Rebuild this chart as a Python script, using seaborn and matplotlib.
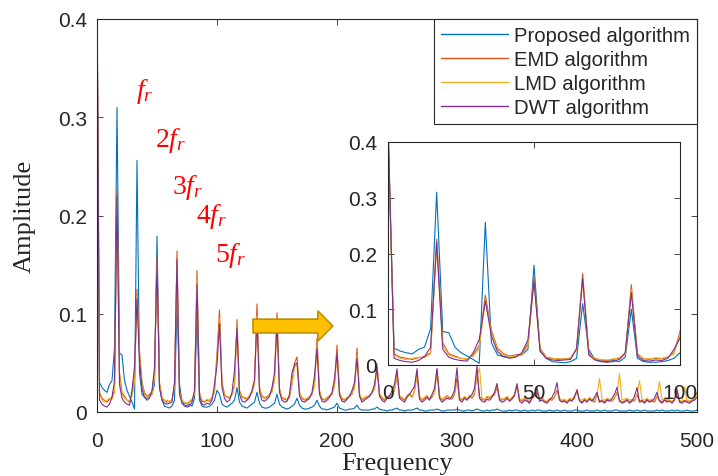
import numpy as np
import pandas as pd
import matplotlib
matplotlib.use("Agg")
import matplotlib.pyplot as plt
from matplotlib.patches import FancyArrow
import seaborn as sns

# frequency grid of the spectrum (0..500 Hz, 241 bins)
freq = np.linspace(0, 500, 241)

# amplitudes, in thousandths (one row = 50 Hz)
proposed_amp = [
    420, 30, 25, 22, 20, 28, 32, 65, 310, 60, 58, 32, 22, 16, 10, 3, 256, 40, 18, 15, 14, 16, 18, 28,
    179, 25, 12, 6, 5, 4, 6, 12, 110, 28, 10, 7, 6, 8, 6, 14, 100, 12, 6, 5, 5, 6, 8, 12,
    22, 18, 8, 6, 5, 7, 9, 12, 25, 10, 6, 5, 4, 6, 8, 10, 20, 9, 5, 4, 4, 5, 7, 9,
    18, 8, 5, 4, 3, 4, 6, 8, 14, 7, 4, 3, 3, 4, 5, 7, 12, 6, 3, 3, 2, 3, 4, 5,
    9, 4, 3, 2, 2, 3, 3, 4, 7, 3, 2, 2, 2, 2, 3, 3, 5, 3, 2, 2, 1, 2, 2, 3,
    4, 2, 2, 1, 2, 2, 2, 3, 4, 2, 2, 1, 1, 2, 2, 2, 3, 2, 1, 1, 2, 2, 2, 2,
    3, 2, 1, 1, 2, 2, 1, 2, 3, 2, 1, 1, 2, 1, 2, 2, 3, 2, 1, 1, 1, 2, 1, 2,
    2, 1, 1, 2, 1, 1, 2, 1, 2, 2, 1, 1, 1, 2, 1, 1, 2, 1, 1, 2, 1, 1, 1, 2,
    2, 1, 1, 1, 2, 1, 1, 1, 2, 1, 1, 2, 1, 1, 1, 2, 2, 1, 1, 1, 1, 2, 1, 1,
    2, 1, 1, 2, 1, 1, 1, 1, 2, 1, 2, 1, 1, 1, 2, 1, 2, 1, 1, 1, 2, 1, 1, 1,
    2]

emd_amp = [
    430, 20, 14, 12, 10, 13, 15, 22, 226, 40, 20, 16, 12, 10, 18, 35, 125, 62, 30, 20, 16, 18, 20, 38,
    158, 30, 14, 12, 10, 11, 12, 28, 164, 22, 12, 9, 8, 10, 12, 20, 144, 20, 11, 10, 12, 11, 14, 22,
    60, 104, 30, 18, 15, 14, 18, 28, 94, 22, 15, 14, 13, 16, 20, 30, 110, 25, 16, 14, 15, 17, 22, 35,
    101, 24, 14, 13, 12, 15, 30, 50, 56, 20, 14, 12, 13, 15, 18, 28, 75, 22, 13, 12, 14, 16, 18, 28,
    68, 20, 13, 12, 14, 16, 18, 26, 65, 18, 12, 14, 15, 16, 20, 24, 49, 18, 14, 12, 15, 16, 18, 22,
    40, 16, 14, 12, 16, 18, 15, 22, 40, 15, 12, 14, 16, 13, 15, 20, 44, 16, 12, 14, 16, 14, 13, 18,
    35, 14, 12, 15, 13, 16, 14, 18, 40, 16, 13, 12, 15, 14, 16, 18, 25, 14, 12, 13, 15, 12, 14, 16,
    29, 13, 11, 14, 12, 10, 14, 16, 20, 12, 14, 11, 10, 13, 12, 15, 22, 13, 11, 12, 10, 13, 12, 14,
    23, 12, 10, 13, 11, 14, 12, 10, 18, 11, 12, 10, 13, 12, 11, 14, 20, 12, 10, 11, 13, 10, 12, 11,
    18, 11, 12, 10, 13, 11, 12, 10, 16, 12, 10, 13, 11, 12, 10, 12, 24, 11, 10, 12, 11, 10, 12, 13,
    20]

lmd_amp = [
    420, 18, 12, 10, 12, 14, 13, 20, 215, 35, 18, 14, 12, 11, 16, 30, 118, 58, 28, 18, 15, 16, 18, 34,
    150, 28, 13, 11, 12, 10, 13, 26, 155, 20, 11, 10, 9, 11, 13, 18, 135, 18, 12, 11, 13, 12, 15, 20,
    55, 95, 28, 17, 16, 15, 17, 26, 86, 20, 16, 15, 14, 17, 19, 28, 98, 24, 17, 15, 16, 18, 20, 32,
    92, 22, 15, 14, 13, 16, 28, 45, 50, 19, 15, 13, 14, 16, 18, 26, 68, 20, 14, 13, 15, 17, 19, 26,
    60, 19, 14, 13, 15, 17, 19, 24, 58, 19, 13, 15, 16, 17, 19, 23, 44, 19, 15, 13, 16, 17, 19, 22,
    36, 17, 15, 13, 17, 19, 16, 21, 36, 16, 13, 15, 17, 14, 16, 19, 40, 17, 13, 15, 17, 15, 14, 19,
    30, 15, 13, 16, 14, 17, 15, 20, 36, 45, 14, 13, 16, 15, 17, 19, 28, 15, 13, 14, 16, 13, 15, 17,
    26, 14, 12, 15, 13, 12, 15, 17, 22, 13, 15, 12, 11, 14, 13, 16, 20, 14, 12, 13, 11, 14, 13, 15,
    20, 13, 12, 14, 12, 15, 13, 12, 17, 34, 13, 12, 14, 13, 12, 15, 18, 39, 12, 13, 14, 12, 13, 12,
    17, 32, 13, 12, 14, 12, 13, 12, 15, 31, 12, 14, 13, 12, 11, 13, 19, 12, 11, 26, 12, 11, 13, 14,
    18]

dwt_amp = [
    440, 12, 8, 6, 5, 8, 15, 32, 220, 28, 14, 10, 8, 7, 22, 46, 115, 52, 24, 15, 12, 14, 22, 45,
    150, 25, 12, 9, 8, 9, 10, 30, 155, 18, 9, 6, 5, 6, 10, 22, 130, 16, 8, 7, 9, 8, 12, 28,
    48, 90, 25, 14, 10, 12, 20, 42, 85, 18, 11, 10, 12, 15, 22, 33, 95, 20, 12, 11, 13, 16, 25, 40,
    90, 20, 12, 10, 11, 18, 40, 48, 50, 16, 11, 10, 12, 14, 20, 37, 65, 18, 11, 10, 12, 15, 20, 34,
    60, 17, 11, 10, 13, 16, 22, 30, 55, 16, 10, 12, 14, 16, 20, 28, 45, 16, 12, 10, 14, 16, 22, 28,
    44, 14, 12, 10, 15, 18, 22, 26, 44, 13, 10, 12, 15, 12, 18, 24, 44, 14, 10, 12, 14, 13, 16, 22,
    45, 12, 10, 14, 12, 15, 18, 24, 47, 14, 11, 10, 13, 12, 15, 20, 29, 12, 10, 11, 14, 11, 13, 18,
    28, 11, 9, 12, 11, 9, 14, 18, 25, 11, 12, 10, 9, 12, 15, 20, 30, 12, 10, 11, 9, 12, 11, 16,
    22, 11, 9, 12, 10, 13, 11, 15, 20, 10, 11, 9, 12, 11, 14, 18, 25, 11, 9, 10, 12, 9, 11, 16,
    25, 10, 11, 9, 12, 10, 11, 14, 20, 11, 9, 12, 10, 11, 9, 13, 22, 10, 9, 11, 10, 9, 11, 12,
    15]

methods = ["Proposed algorithm", "EMD algorithm", "LMD algorithm", "DWT algorithm"]
colors = ["#0072BD", "#D95319", "#EDB120", "#7E2F8E"]
harmonic_labels = [r"$\mathit{f_r}$", r"$\mathit{2f_r}$", r"$\mathit{3f_r}$",
                   r"$\mathit{4f_r}$", r"$\mathit{5f_r}$"]

frames = []
for name, amp in zip(methods, [proposed_amp, emd_amp, lmd_amp, dwt_amp]):
    frames.append(pd.DataFrame({"freq": freq, "amp": np.array(amp) / 1000.0, "method": name}))
df = pd.concat(frames, ignore_index=True)

sns.set_style("ticks")
plt.rcParams["font.family"] = ["Liberation Sans", "DejaVu Sans"]
plt.rcParams["mathtext.fontset"] = "custom"
plt.rcParams["mathtext.it"] = "Liberation Serif:italic"
plt.rcParams["mathtext.rm"] = "Liberation Serif"

fig = plt.figure(figsize=(7.18, 4.77), dpi=100)
ax = fig.add_axes([97 / 718, 64 / 477, 600 / 718, 393 / 477])
palette = dict(zip(methods, colors))

sns.lineplot(data=df, x="freq", y="amp", hue="method", hue_order=methods,
             palette=palette, linewidth=0.8, ax=ax, sort=False)
ax.set_xlim(0, 500)
ax.set_ylim(0, 0.4)
ax.set_xticks([0, 100, 200, 300, 400, 500])
ax.set_yticks([0, 0.1, 0.2, 0.3, 0.4])
ax.set_yticklabels(["0", "0.1", "0.2", "0.3", "0.4"])
ax.tick_params(direction="in", length=4, width=0.6, top=True, right=True,
               labelsize=15, labelcolor="#262626", color="#262626")
ax.tick_params(axis="x", pad=14)
ax.tick_params(axis="y", pad=7)
for s in ax.spines.values():
    s.set_visible(True)
    s.set_linewidth(0.8)
    s.set_color("#262626")
ax.set_xlabel("Frequency", family="Liberation Serif", fontsize=19, labelpad=1)
ax.set_ylabel("Amplitude", family="Liberation Serif", fontsize=19, labelpad=16)

handles, labels = ax.get_legend_handles_labels()
leg = ax.legend(handles, labels, loc="upper right", bbox_to_anchor=(1, 1),
                borderaxespad=0, fancybox=False, edgecolor="#262626", framealpha=1,
                fontsize=14.6, handlelength=3.3, handletextpad=0.3,
                labelspacing=0.25, borderpad=0.35)
leg.get_frame().set_linewidth(0.8)
for line in leg.get_lines():
    line.set_linewidth(1.0)

# harmonic annotations
for lab, (hx, hy) in zip(harmonic_labels, [(40, 0.327), (61.7, 0.277), (75.8, 0.230),
                                           (95.8, 0.200), (111.7, 0.160)]):
    ax.text(hx, hy, lab, color="red", fontsize=20, ha="center", va="center")

ax.add_patch(FancyArrow(130, 0.0875, 54, 0, width=0.014, head_width=0.031,
                        head_length=12.5, length_includes_head=False,
                        facecolor="#FFC000", edgecolor="#BF9000", linewidth=1.2, zorder=5))

# zoomed inset 0..100 Hz
axin = fig.add_axes([388 / 718, 111 / 477, 292 / 718, 223 / 477])
axin.set_facecolor("white")
sns.lineplot(data=df[df["freq"] <= 105], x="freq", y="amp", hue="method",
             hue_order=methods, palette=palette, linewidth=0.8, ax=axin,
             legend=False, sort=False)
axin.set_xlim(0, 100)
axin.set_ylim(0, 0.4)
axin.set_xticks([0, 50, 100])
axin.set_yticks([0, 0.1, 0.2, 0.3, 0.4])
axin.set_yticklabels(["0", "0.1", "0.2", "0.3", "0.4"])
axin.tick_params(direction="in", length=4, width=0.6, top=True, right=True,
                 labelsize=15, labelcolor="#262626", color="#262626")
axin.tick_params(axis="x", pad=13)
axin.tick_params(axis="y", pad=8)
axin.set_xlabel("")
axin.set_ylabel("")
for s in axin.spines.values():
    s.set_visible(True)
    s.set_linewidth(0.8)
    s.set_color("#262626")

fig.savefig("out.png", dpi=100)
